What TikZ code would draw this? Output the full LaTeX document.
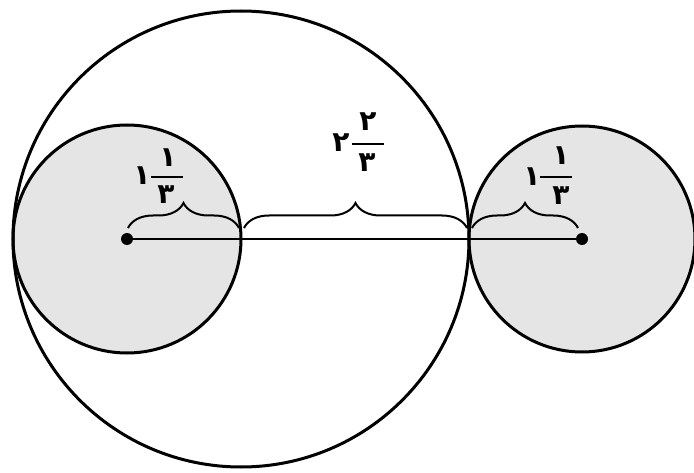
\documentclass[tikz,border=0pt]{standalone}
\usepackage{fontspec}
\newfontfamily\fadigits[Script=Arabic]{DejaVu Sans}
\usetikzlibrary{decorations.pathreplacing}
\tikzset{
  ring/.style={line width=3pt, draw=black},
  shade/.style={fill=black!10},
  axisline/.style={line width=2.2pt},
  bracemark/.style={line width=2pt, decorate, decoration={brace, amplitude=25pt}},
  digit/.style={inner sep=0pt, font=\fadigits\bfseries\fontsize{28}{30}\selectfont},
  fracbar/.style={line width=2pt},
  dot/.style={fill=black}
}
\begin{document}
\begin{tikzpicture}[x=1pt,y=-1pt]
\useasboundingbox (0,0) rectangle (694,473);
\fill[white] (0,0) rectangle (694,473);
% centres
\coordinate (cl) at (127,239);
\coordinate (cb) at (241,239);
\coordinate (cr) at (582,239);
% fills
\path[shade] (cl) circle[radius=114pt];
\path[shade] (cr) circle[radius=113pt];
% outlines
\draw[ring] (cb) circle[radius=228pt];
\draw[ring] (cl) circle[radius=114pt];
\draw[ring] (cr) circle[radius=113pt];
% centre line
\draw[axisline] (cl) -- (cr);
\fill[dot] (cl) circle[radius=6pt];
\fill[dot] (cr) circle[radius=6pt];
% braces
\draw[bracemark] (128,228) -- (239,228);
\draw[bracemark] (244,228) -- (467,228);
\draw[bracemark] (472,228) -- (578,228);
% left label 1 1/3
\node[digit] (l1) at (142,176) {۱};
\node[digit] (l2) at (168,158) {۱};
\node[digit] (l3) at (166,195) {۳};
\coordinate (lb1) at (151,177);
\coordinate (lb2) at (183,177);
\draw[fracbar] (lb1) -- (lb2);
% middle label 2 2/3
\node[digit] (m1) at (341,143) {۲};
\node[digit] (m2) at (368,122) {۲};
\node[digit] (m3) at (367,163) {۳};
\coordinate (mb1) at (352,144);
\coordinate (mb2) at (384,144);
\draw[fracbar] (mb1) -- (mb2);
% right label 1 1/3
\node[digit] (r1) at (532,177) {۱};
\node[digit] (r2) at (561,156) {۱};
\node[digit] (r3) at (561,196) {۳};
\coordinate (rb1) at (540,177);
\coordinate (rb2) at (572,177);
\draw[fracbar] (rb1) -- (rb2);
\end{tikzpicture}
\end{document}
